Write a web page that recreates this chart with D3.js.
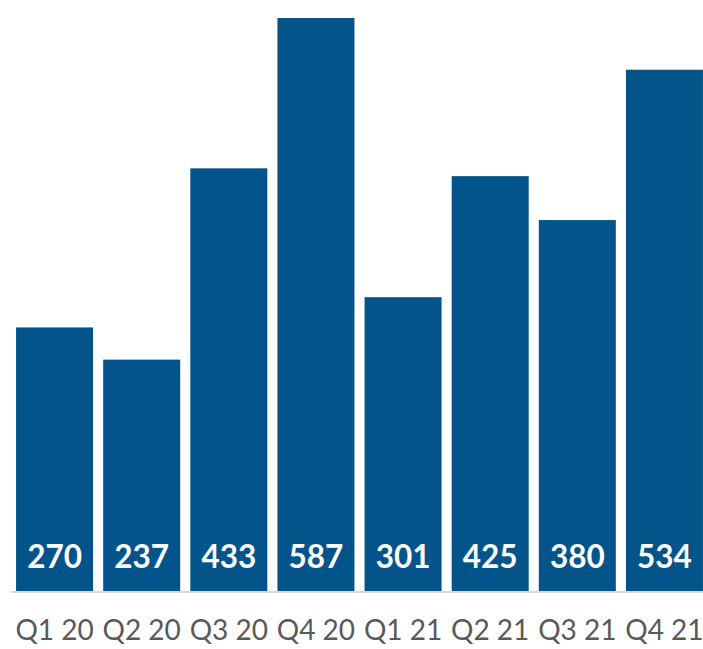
<!DOCTYPE html>
<html>
<head>
<meta charset="utf-8">
<script src="https://cdn.jsdelivr.net/npm/d3@7"></script>
<style>
  html, body { margin: 0; padding: 0; background: #fff; }
  svg { display: block; }
</style>
</head>
<body>
<svg id="chart" width="703" height="649"></svg>
<script>
// Quarterly totals
const quarters = ["Q1 20", "Q2 20", "Q3 20", "Q4 20", "Q1 21", "Q2 21", "Q3 21", "Q4 21"];
const totals = [270, 237, 433, 587, 301, 425, 380, 534];

const svg = d3.select("#chart");
const baseY = 591;
const fontFamily = "Lato, 'Open Sans', sans-serif";

const x = d3.scaleBand()
  .domain(quarters)
  .range([11, 708])
  .paddingInner(0.116)
  .paddingOuter(0.058);

const y = d3.scaleLinear()
  .domain([0, 587])
  .range([baseY, 18]);

// Bars
svg.append("g")
  .selectAll("rect")
  .data(quarters)
  .join("rect")
  .attr("x", d => x(d))
  .attr("width", x.bandwidth())
  .attr("y", (d, i) => y(totals[i]))
  .attr("height", (d, i) => baseY - y(totals[i]))
  .attr("fill", "#03548A");

// Baseline
svg.append("line")
  .attr("x1", 11).attr("x2", 703)
  .attr("y1", baseY + 1).attr("y2", baseY + 1)
  .attr("stroke", "#d9d9d9")
  .attr("stroke-width", 2);

// Value labels inside the bars
svg.append("g")
  .selectAll("text")
  .data(quarters)
  .join("text")
  .attr("x", d => x(d) + x.bandwidth() / 2)
  .attr("y", 568)
  .attr("text-anchor", "middle")
  .attr("font-family", fontFamily)
  .attr("font-weight", "bold")
  .attr("font-size", 31.5)
  .attr("fill", "#fff")
  .text((d, i) => totals[i]);

// Category axis
const axis = svg.append("g")
  .attr("transform", `translate(0,${baseY})`)
  .call(d3.axisBottom(x).tickSize(0).tickPadding(0));
axis.select(".domain").remove();
axis.selectAll("text")
  .attr("y", 49)
  .attr("dy", 0)
  .attr("font-family", fontFamily)
  .attr("font-size", 28)
  .attr("fill", "#595959");
</script>
</body>
</html>
